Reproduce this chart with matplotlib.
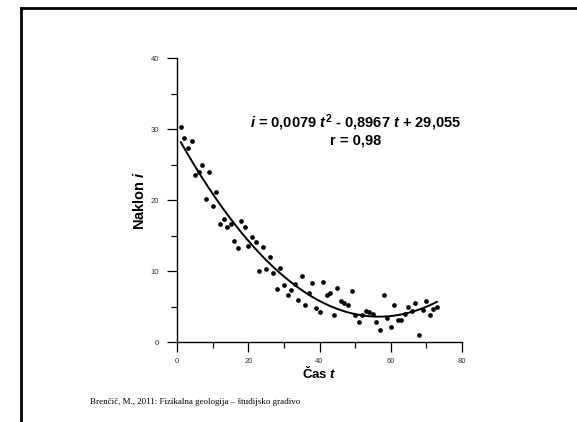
import numpy as np
import matplotlib
matplotlib.use("Agg")
import matplotlib.pyplot as plt
from matplotlib.lines import Line2D

# measured points (time t, slope i)
cas = list(range(1, 74))
naklon = [30.3, 28.8, 27.4, 28.4, 23.5, 24.0, 25.0, 20.2, 24.0, 19.2,
          21.1, 16.6, 17.4, 16.2, 16.7, 14.3, 13.3, 17.1, 16.3, 13.5,
          14.9, 14.1, 10.0, 13.4, 10.3, 12.0, 9.8, 7.5, 10.4, 8.0,
          6.7, 7.3, 8.2, 5.9, 9.3, 5.2, 7.0, 8.3, 4.8, 4.3,
          8.5, 6.6, 6.9, 3.8, 7.7, 5.8, 5.6, 5.3, 7.2, 3.8,
          2.8, 3.8, 4.4, 4.2, 4.0, 2.8, 1.8, 6.6, 3.4, 2.1,
          5.3, 3.1, 3.1, 4.0, 4.9, 4.4, 5.6, 1.0, 4.5, 5.8,
          3.8, 4.7, 5.0]

# quadratic fit given on the slide
koef = [0.0079, -0.8967, 29.055]

x_ticks = [0, 20, 40, 60, 80]
y_ticks = [0, 10, 20, 30, 40]

plt.rcParams['font.family'] = 'Liberation Sans'
plt.rcParams['mathtext.fontset'] = 'custom'
plt.rcParams['mathtext.rm'] = 'Liberation Sans:bold'
plt.rcParams['mathtext.it'] = 'Liberation Sans:bold:italic'
plt.rcParams['mathtext.bf'] = 'Liberation Sans:bold'

fig = plt.figure(figsize=(5.77, 4.22), dpi=100)
ax = fig.add_axes([0.3073, 0.1889, 0.4929, 0.6729])

ax.plot(cas, naklon, 'o', color='black', markersize=3.4, markeredgewidth=0)
t = np.linspace(cas[0], cas[-1], 200)
ax.plot(t, np.polyval(koef, t), color='black', linewidth=1.4)

ax.set_xlim(0, 80)
ax.set_ylim(0, 40)
ax.set_xticks(x_ticks)
ax.set_yticks(y_ticks)
ax.set_xticks([10, 30, 50, 70], minor=True)
ax.set_yticks([5, 15, 25, 35], minor=True)
for s in ['top', 'right']:
    ax.spines[s].set_visible(False)
for s in ['left', 'bottom']:
    ax.spines[s].set_linewidth(1.0)
ax.tick_params(which='major', length=7, width=0.9, labelsize=5.5,
               labelcolor='#333333', pad=6)
ax.tick_params(which='minor', length=4, width=0.9)
ax.tick_params(axis='x', which='major', pad=4)

ax.set_xlabel('Čas $t$', fontsize=9.5, fontweight='bold', labelpad=0)
ax.set_ylabel('Naklon $i$', fontsize=10.5, fontweight='bold', labelpad=3)

ax.text(0.628, 0.775, '$i$ = 0,0079 $t^2$ - 0,8967 $t$ + 29,055',
        transform=ax.transAxes, ha='center', va='center',
        fontsize=10.5, fontweight='bold')
ax.text(0.627, 0.709, 'r = 0,98', transform=ax.transAxes,
        ha='center', va='center', fontsize=10.5, fontweight='bold')

# slide frame
fig.add_artist(Line2D([20.7 / 577, 1.0], [1 - 8 / 422, 1 - 8 / 422],
                      color='black', linewidth=2))
fig.add_artist(Line2D([20.7 / 577, 20.7 / 577], [0, 1 - 8 / 422],
                      color='black', linewidth=2))

fig.text(90 / 577, 1 - 402 / 422,
         'Brenčič, M., 2011: Fizikalna geologija – študijsko gradivo',
         family='Liberation Serif', fontsize=6.5, va='center', ha='left')

fig.savefig('out.png', dpi=100)
